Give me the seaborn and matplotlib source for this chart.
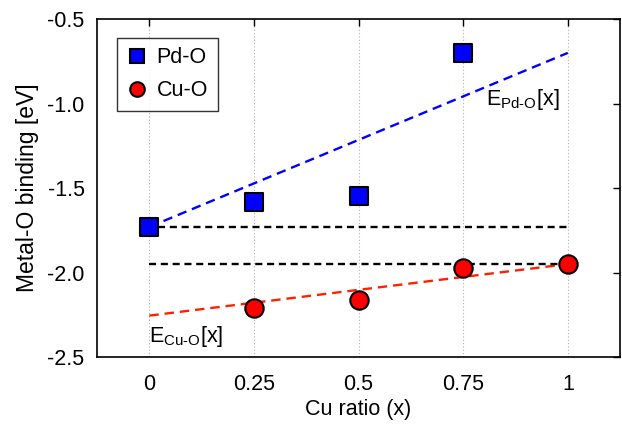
import matplotlib
matplotlib.use("Agg")
import matplotlib.pyplot as plt
import seaborn as sns
import pandas as pd
from matplotlib.lines import Line2D

# data
pd_x = [0.0, 0.25, 0.5, 0.75]
pd_y = [-1.73, -1.58, -1.55, -0.70]
cu_x = [0.25, 0.5, 0.75, 1.0]
cu_y = [-2.21, -2.16, -1.975, -1.95]
fit_x = [0.0, 1.0]
pd_fit = [-1.73, -0.70]
cu_fit = [-2.255, -1.95]
ref_pd = [-1.73, -1.73]
ref_cu = [-1.95, -1.95]
xticks = [0, 0.25, 0.5, 0.75, 1]
xticklabels = ["0", "0.25", "0.5", "0.75", "1"]
yticks = [-2.5, -2.0, -1.5, -1.0, -0.5]

sns.set_style("white")
plt.rcParams['font.family'] = ['Liberation Sans', 'DejaVu Sans']
plt.rcParams['mathtext.fontset'] = 'custom'
plt.rcParams['mathtext.rm'] = 'Liberation Sans'
for key in ['text.color', 'axes.labelcolor', 'xtick.color', 'ytick.color']:
    plt.rcParams[key] = 'black'
FS = 15.5

fig, ax = plt.subplots(figsize=(6.22, 4.24), dpi=100)
fig.subplots_adjust(left=0.156, right=0.997, top=0.955, bottom=0.158)

for xv in xticks:
    ax.axvline(xv, color="#b0b0b0", lw=0.8, ls=(0, (1, 2)), zorder=0)

fits = pd.DataFrame({"x": fit_x, "pd": pd_fit, "cu": cu_fit, "rp": ref_pd, "rc": ref_cu})
sns.lineplot(data=fits, x="x", y="pd", ax=ax, color="#0000ff", lw=1.7, zorder=2).lines[-1].set_dashes((4, 2.5))
sns.lineplot(data=fits, x="x", y="cu", ax=ax, color="#ff2000", lw=1.7, zorder=2).lines[-1].set_dashes((4, 2.5))
ax.plot([0.02, 1.0], ref_pd, color="black", lw=1.7, dashes=(3, 2), zorder=2)
ax.plot(fit_x, ref_cu, color="black", lw=1.7, dashes=(3, 2), zorder=2)

dpd = pd.DataFrame({"x": pd_x, "y": pd_y})
dcu = pd.DataFrame({"x": cu_x, "y": cu_y})
sns.scatterplot(data=dpd, x="x", y="y", ax=ax, marker="s", s=165, color="#0000ff",
                edgecolor="black", linewidth=1.5, zorder=3)
sns.scatterplot(data=dcu, x="x", y="y", ax=ax, marker="o", s=175, color="#ff0000",
                edgecolor="black", linewidth=1.5, zorder=3)

ax.set_xlim(-0.125, 1.125)
ax.set_ylim(-2.5, -0.5)
ax.set_xticks(xticks)
ax.set_xticklabels(xticklabels)
ax.set_yticks(yticks)
ax.set_yticklabels([f"{v:.1f}" for v in yticks])
ax.tick_params(axis="both", direction="in", length=5, width=1, top=True, right=True,
               labelsize=FS, color="black", labelcolor="black")
ax.tick_params(axis="x", pad=12)
ax.tick_params(axis="y", pad=9)
for sp in ax.spines.values():
    sp.set_color("black")
    sp.set_linewidth(1.2)

ax.set_xlabel("Cu ratio (x)", fontsize=FS, labelpad=3, color="black")
ax.set_ylabel("Metal-O binding [eV]", fontsize=16.5, labelpad=6, color="black")

ax.text(0.805, -0.975, "$\\mathregular{E_{Pd\u2010O}}$[x]", fontsize=FS, va="center", ha="left")
ax.text(0.0, -2.38, "$\\mathregular{E_{Cu\u2010O}}$[x]", fontsize=FS, va="center", ha="left")

handles = [
    Line2D([], [], marker="s", ls="none", markersize=10.5, markerfacecolor="#0000ff",
           markeredgecolor="black", markeredgewidth=1.5, label="Pd-O"),
    Line2D([], [], marker="o", ls="none", markersize=10.5, markerfacecolor="#ff0000",
           markeredgecolor="black", markeredgewidth=1.5, label="Cu-O"),
]
leg = ax.legend(handles=handles, loc="upper left", bbox_to_anchor=(0.038, 0.945),
                fontsize=FS, frameon=True, fancybox=False, handletextpad=0.4,
                borderpad=0.45, labelspacing=0.55, handlelength=1.0, borderaxespad=0)
leg.get_frame().set_edgecolor("black")
leg.get_frame().set_linewidth(1.0)

fig.savefig("out.png", dpi=100)
